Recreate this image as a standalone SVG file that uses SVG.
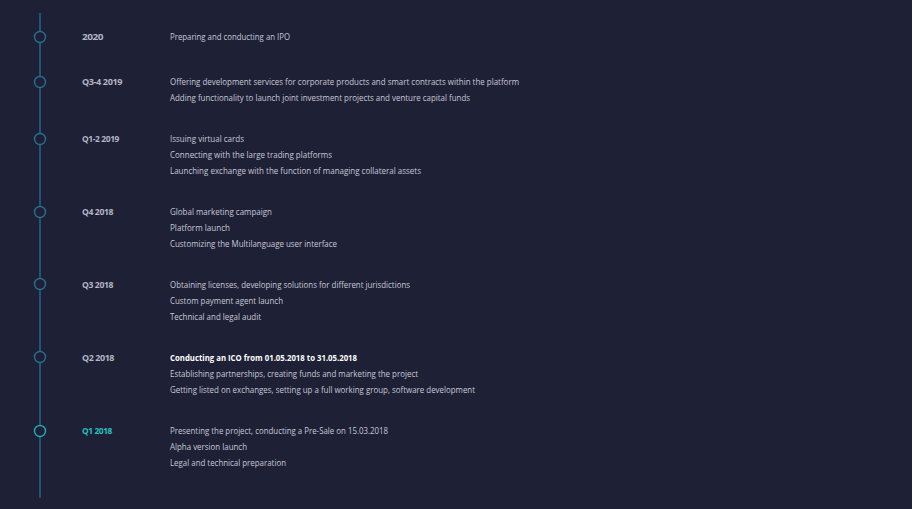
<svg xmlns="http://www.w3.org/2000/svg" width="912" height="509" viewBox="0 0 912 509">
<style>
.bg{fill:#1e2035}
.axis{stroke:#1f7199;stroke-width:1.3;fill:none}
.dot{fill:#1e2035;stroke:#2a6d8f;stroke-width:1.4}
.dot.active{stroke:#22aab4}
.lbl{font-family:"Open Sans","Liberation Sans",sans-serif;font-size:8.5px;font-weight:bold;fill:#b3b6c6;letter-spacing:-0.4px}
.lbl.active{fill:#25c0c2}
.txt{font-family:"Open Sans","Liberation Sans",sans-serif;font-size:8.5px;fill:#c6c9d7}
.txt.strong{font-weight:bold;fill:#ffffff}
</style>
<rect class="bg" x="0" y="0" width="912" height="509"/>
<g id="connectors">
<line class="axis" x1="40" y1="13" x2="40" y2="498"/>
</g>
<g id="n2020">
<circle class="dot" cx="40" cy="37" r="5.5"/>
<text class="lbl" x="82" y="40" textLength="21" lengthAdjust="spacingAndGlyphs">2020</text>
<text class="txt" x="170" y="40" textLength="120" lengthAdjust="spacingAndGlyphs">Preparing and conducting an IPO</text>
</g>
<g id="nQ34-2019">
<circle class="dot" cx="40" cy="82" r="5.5"/>
<text class="lbl" x="82" y="85" textLength="40" lengthAdjust="spacingAndGlyphs">Q3-4 2019</text>
<text class="txt" x="170" y="85" textLength="349" lengthAdjust="spacingAndGlyphs">Offering development services for corporate products and smart contracts within the platform</text>
<text class="txt" x="170" y="101" textLength="300" lengthAdjust="spacingAndGlyphs">Adding functionality to launch joint investment projects and venture capital funds</text>
</g>
<g id="nQ12-2019">
<circle class="dot" cx="40" cy="139" r="5.5"/>
<text class="lbl" x="82" y="142" textLength="37" lengthAdjust="spacingAndGlyphs">Q1-2 2019</text>
<text class="txt" x="170" y="142" textLength="74" lengthAdjust="spacingAndGlyphs">Issuing virtual cards</text>
<text class="txt" x="170" y="158" textLength="162" lengthAdjust="spacingAndGlyphs">Connecting with the large trading platforms</text>
<text class="txt" x="170" y="174" textLength="251" lengthAdjust="spacingAndGlyphs">Launching exchange with the function of managing collateral assets</text>
</g>
<g id="nQ4-2018">
<circle class="dot" cx="40" cy="212" r="5.5"/>
<text class="lbl" x="82" y="215" textLength="31" lengthAdjust="spacingAndGlyphs">Q4 2018</text>
<text class="txt" x="170" y="215" textLength="102" lengthAdjust="spacingAndGlyphs">Global marketing campaign</text>
<text class="txt" x="170" y="231" textLength="60" lengthAdjust="spacingAndGlyphs">Platform launch</text>
<text class="txt" x="170" y="247" textLength="167" lengthAdjust="spacingAndGlyphs">Customizing the Multilanguage user interface</text>
</g>
<g id="nQ3-2018">
<circle class="dot" cx="40" cy="284" r="5.5"/>
<text class="lbl" x="82" y="288" textLength="31" lengthAdjust="spacingAndGlyphs">Q3 2018</text>
<text class="txt" x="170" y="288" textLength="240" lengthAdjust="spacingAndGlyphs">Obtaining licenses, developing solutions for different jurisdictions</text>
<text class="txt" x="170" y="304" textLength="113" lengthAdjust="spacingAndGlyphs">Custom payment agent launch</text>
<text class="txt" x="170" y="320" textLength="91" lengthAdjust="spacingAndGlyphs">Technical and legal audit</text>
</g>
<g id="nQ2-2018">
<circle class="dot" cx="40" cy="357" r="5.5"/>
<text class="lbl" x="82" y="361" textLength="32" lengthAdjust="spacingAndGlyphs">Q2 2018</text>
<text class="txt strong" x="170" y="361" textLength="187" lengthAdjust="spacingAndGlyphs">Conducting an ICO from 01.05.2018 to 31.05.2018</text>
<text class="txt" x="170" y="377" textLength="248" lengthAdjust="spacingAndGlyphs">Establishing partnerships, creating funds and marketing the project</text>
<text class="txt" x="170" y="393" textLength="305" lengthAdjust="spacingAndGlyphs">Getting listed on exchanges, setting up a full working group, software development</text>
</g>
<g id="nQ1-2018">
<circle class="dot active" cx="40" cy="431" r="5.5"/>
<text class="lbl active" x="82" y="434" textLength="30" lengthAdjust="spacingAndGlyphs">Q1 2018</text>
<text class="txt" x="170" y="434" textLength="218" lengthAdjust="spacingAndGlyphs">Presenting the project, conducting a Pre-Sale on 15.03.2018</text>
<text class="txt" x="170" y="450" textLength="77" lengthAdjust="spacingAndGlyphs">Alpha version launch</text>
<text class="txt" x="170" y="466" textLength="116" lengthAdjust="spacingAndGlyphs">Legal and technical preparation</text>
</g>
</svg>
